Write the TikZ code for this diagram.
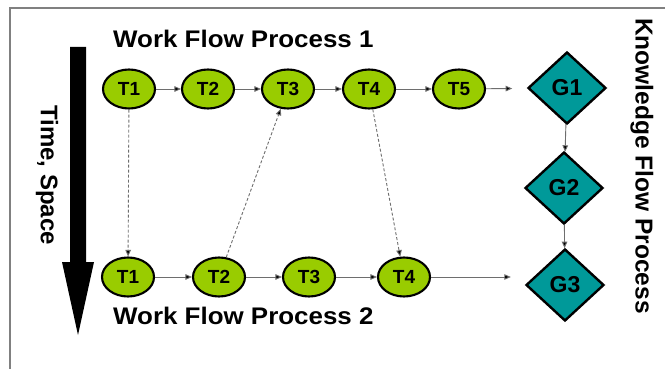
\documentclass[tikz,border=0pt]{standalone}
\usepackage{fontspec}
\setmainfont{Liberation Sans}
\usetikzlibrary{shapes.geometric,arrows.meta}
\definecolor{tgreen}{RGB}{153,204,0}
\definecolor{gteal}{RGB}{0,153,153}
\definecolor{lgray}{RGB}{110,110,110}
\tikzset{
  task/.style={ellipse,draw=black,line width=2.1pt,fill=tgreen,minimum width=52pt,minimum height=39pt,inner sep=0pt,font=\fontsize{19}{19}\selectfont\bfseries},
  goal/.style={diamond,draw=black,line width=2.4pt,fill=gteal,minimum width=78pt,minimum height=72pt,inner sep=0pt,font=\fontsize{23}{23}\selectfont\bfseries},
  flow/.style={draw=lgray,line width=0.9pt,-{Triangle[length=6.5pt,width=5.5pt,fill=black]}},
  kflow/.style={draw=lgray,dash pattern=on 3pt off 2pt,line width=0.9pt,-{Triangle[length=6.5pt,width=5.5pt,fill=black]}},
  ttl/.style={font=\fontsize{24}{24}\selectfont\bfseries,inner sep=0pt}
}
\begin{document}
\begin{tikzpicture}[x=1pt,y=-1pt]
\useasboundingbox (0,0) rectangle (665,369);
\fill[white] (0,0) rectangle (665,369);
\draw[gray,line width=1.5pt] (10,369) -- (10,8) -- (665,8);
% big arrow
\fill[black] (70,47) -- (86,47) -- (86,262) -- (94,262) -- (78,335) -- (62,262) -- (70,262) -- cycle;
% titles
\node[ttl,anchor=base west,xscale=1.08] (w1) at (113,48) {Work Flow Process 1};
\node[ttl,anchor=base west,xscale=1.08] (w2) at (113,324) {Work Flow Process 2};
\node[ttl,rotate=-90] (ts) at (47,175) {Time, Space};
\node[ttl,rotate=-90,font=\fontsize{24.5}{24.5}\selectfont\bfseries] (kf) at (642,166) {Knowledge Flow Process};
% nodes
\node[task] (a1) at (129,89) {T1};
\node[task] (a2) at (208,89) {T2};
\node[task] (a3) at (288,89) {T3};
\node[task] (a4) at (369,89) {T4};
\node[task] (a5) at (459,89) {T5};
\node[goal] (g1) at (567,88) {G1};
\node[goal] (g2) at (564,188) {G2};
\node[goal] (g3) at (565,285) {G3};
\node[task] (b1) at (128,277) {T1};
\node[task] (b2) at (219,277) {T2};
\node[task] (b3) at (309,277) {T3};
\node[task] (b4) at (404,277) {T4};
% flows
\draw[flow] (a1) -- (a2);
\draw[flow] (a2) -- (a3);
\draw[flow] (a3) -- (a4);
\draw[flow] (a4) -- (a5);
\draw[flow,shorten >=15pt] (a5) -- (g1);
\draw[flow] (b1) -- (b2);
\draw[flow] (b2) -- (b3);
\draw[flow] (b3) -- (b4);
\draw[flow,shorten >=14pt] (b4) -- (g3.west |- b4);
\draw[flow] (g1) -- (g2);
\draw[flow] (g2) -- (g3);
\draw[kflow] (a1) -- (b1);
\draw[kflow] (b2) -- (a3);
\draw[kflow] (a4) -- (b4);
\end{tikzpicture}
\end{document}
